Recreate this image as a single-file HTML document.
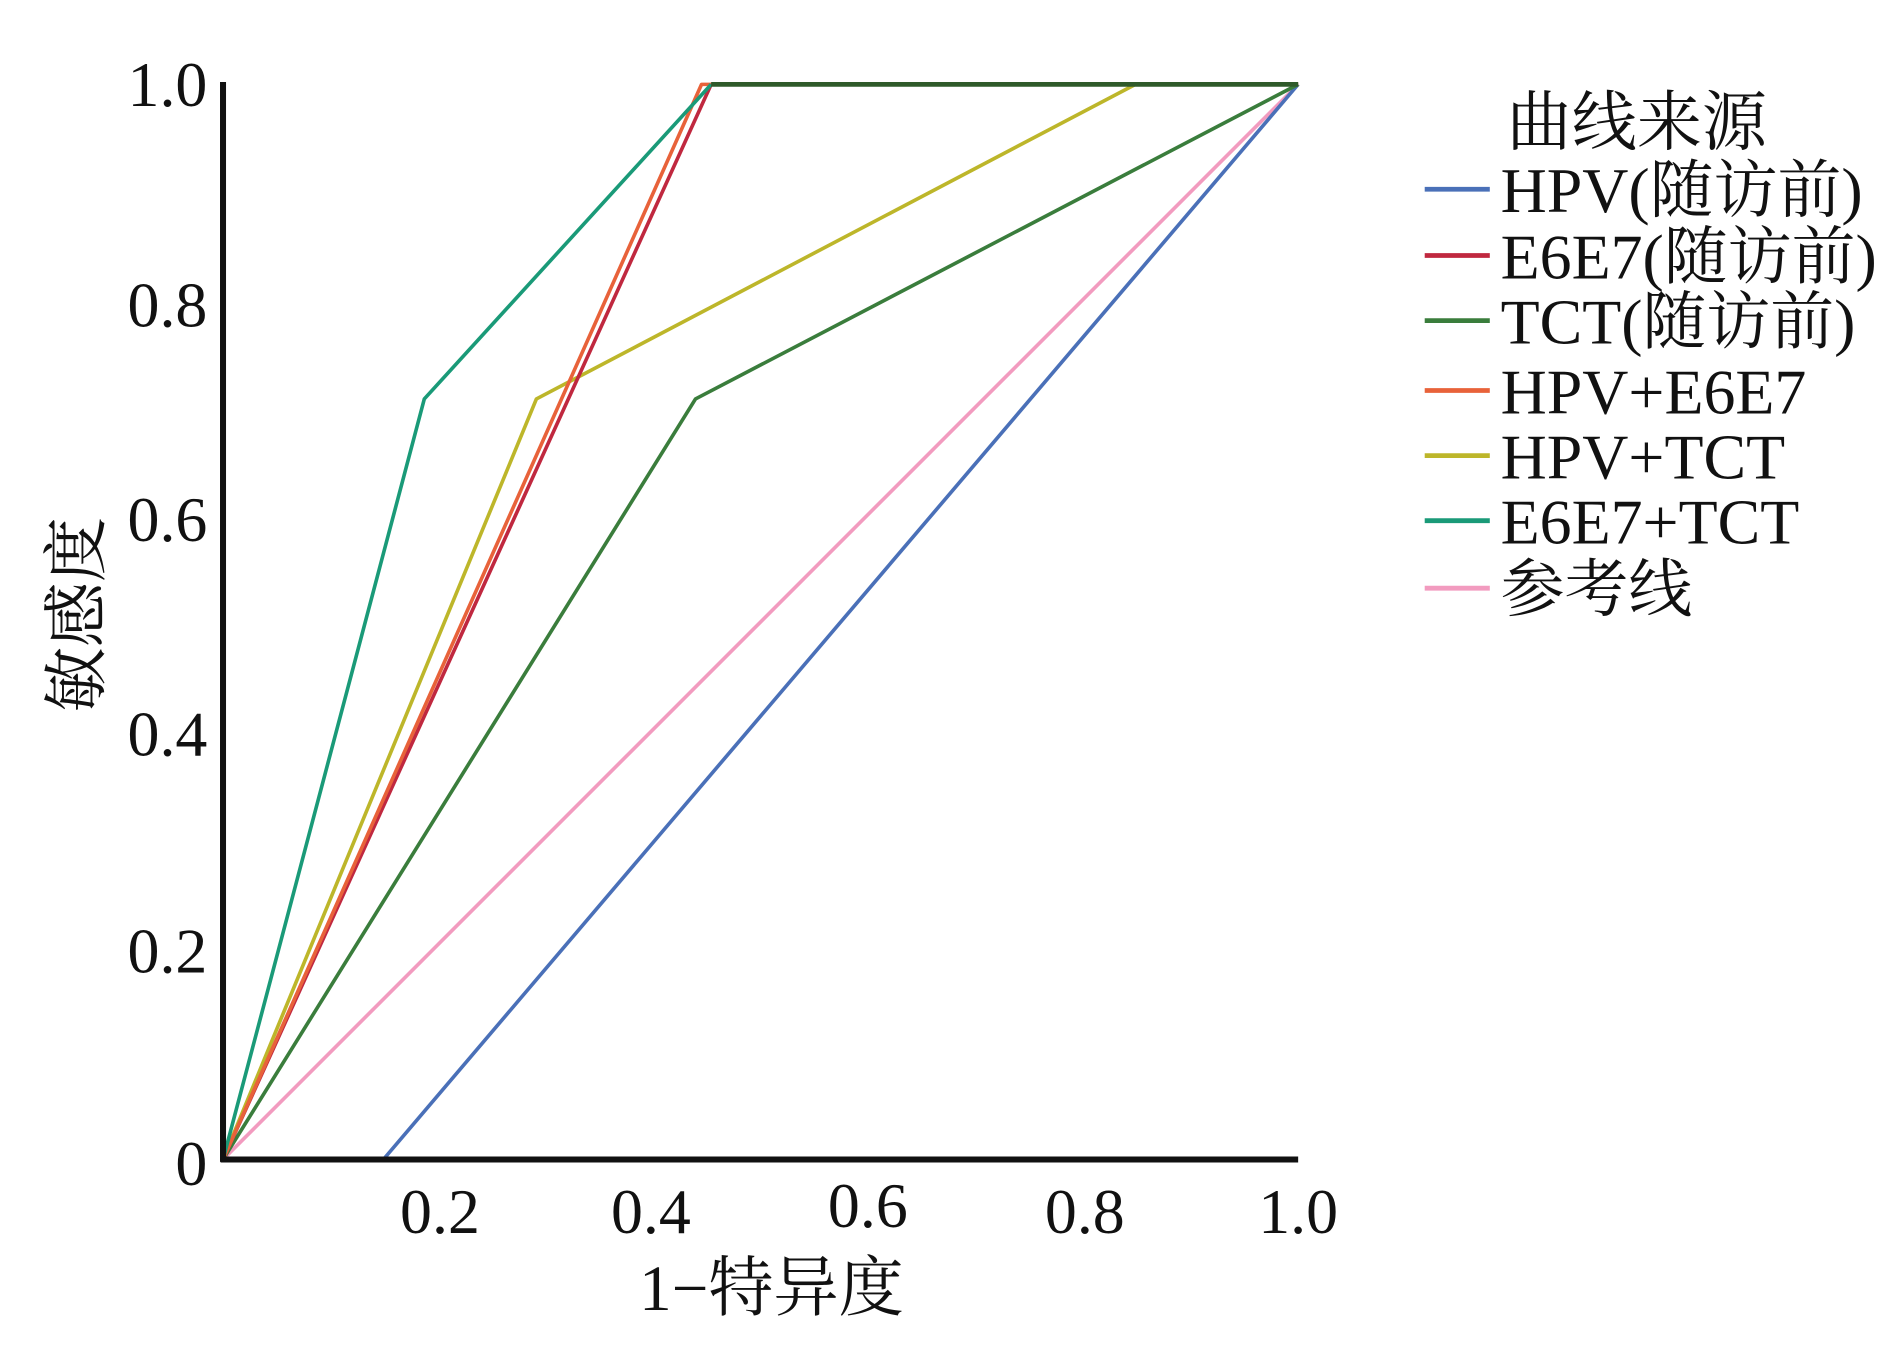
<!DOCTYPE html>
<html><head><meta charset="utf-8"><style>
html,body{margin:0;padding:0;background:#fff;width:1890px;height:1362px;overflow:hidden}
svg text{font-family:"Liberation Serif","Noto Serif CJK SC",serif;fill:#111}
</style></head><body>
<svg width="1890" height="1362" viewBox="0 0 1568 1130" xmlns="http://www.w3.org/2000/svg">
<g fill="none" stroke-width="3" stroke-linejoin="round">
<polyline points="185,962 1077,70" stroke="#f29bbf"/>
<polyline points="185,962 318,962 1077,70" stroke="#4a70b8"/>
<polyline points="185,962 577,331 1077,70" stroke="#3a7d3c"/>
<polyline points="185,962 445,331 942,70 1077,70" stroke="#bdb62a"/>
<polyline points="185,962 590,70 1077,70" stroke="#c0283f"/>
<polyline points="185,962 582,70 590,70" stroke="#e8623a"/>
<polyline points="185,962 352,331 590,70" stroke="#1a9a78"/>
<polyline points="590,70 1077,70" stroke="#2f5a2a" stroke-width="4"/>
</g>
<g stroke="#111" stroke-width="5" fill="none">
<line x1="185" y1="68" x2="185" y2="964"/>
<line x1="183" y1="962" x2="1077" y2="962"/>
</g>
<g font-size="53" text-anchor="end">
<text x="172" y="88">1.0</text>
<text x="172" y="271">0.8</text>
<text x="172" y="449">0.6</text>
<text x="172" y="627">0.4</text>
<text x="172" y="807">0.2</text>
<text x="172" y="983">0</text>
</g>
<g font-size="53" text-anchor="middle">
<text x="365" y="1023">0.2</text>
<text x="540" y="1023">0.4</text>
<text x="720" y="1018">0.6</text>
<text x="900" y="1023">0.8</text>
<text x="1077" y="1023">1.0</text>
</g>
<text x="640" y="1087" font-size="54" text-anchor="middle">1−特异度</text>
<text transform="translate(82,510) rotate(-90)" font-size="54" text-anchor="middle">敏感度</text>
<text x="1250" y="120" font-size="54">曲线来源</text>
<g stroke-width="4">
<line x1="1182" y1="157" x2="1236" y2="157" stroke="#4a70b8"/>
<line x1="1182" y1="212" x2="1236" y2="212" stroke="#c0283f"/>
<line x1="1182" y1="266" x2="1236" y2="266" stroke="#3a7d3c"/>
<line x1="1182" y1="324" x2="1236" y2="324" stroke="#e8623a"/>
<line x1="1182" y1="378" x2="1236" y2="378" stroke="#bdb62a"/>
<line x1="1182" y1="432" x2="1236" y2="432" stroke="#1a9a78"/>
<line x1="1182" y1="488" x2="1236" y2="488" stroke="#f29bbf"/>
</g>
<g font-size="53">
<text x="1245" y="176">HPV(随访前)</text>
<text x="1245" y="231">E6E7(随访前)</text>
<text x="1245" y="285">TCT(随访前)</text>
<text x="1245" y="343">HPV+E6E7</text>
<text x="1245" y="397">HPV+TCT</text>
<text x="1245" y="451">E6E7+TCT</text>
<text x="1245" y="507">参考线</text>
</g>
</svg>
</body></html>
